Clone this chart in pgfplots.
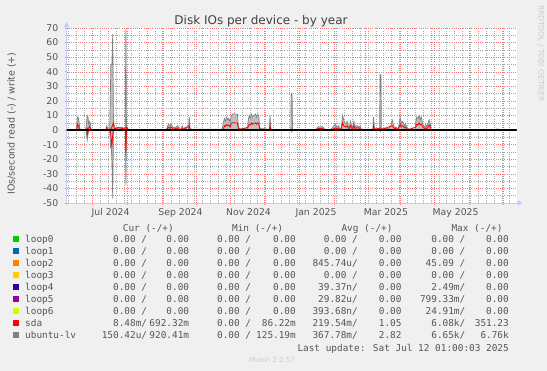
\documentclass[border=0pt]{standalone}
\usepackage{pgfplots}
\pgfplotsset{compat=1.18}
\usepackage{fontspec}
\setmainfont{DejaVu Sans}
\newfontfamily\monofont{DejaVu Sans Mono}
\usetikzlibrary{arrows.meta}
\definecolor{bgc}{HTML}{F0F0F0}
\definecolor{axc}{RGB}{200,200,255}
\definecolor{txt}{HTML}{555555}
\definecolor{cloop0}{HTML}{00CC00}
\definecolor{cloop1}{HTML}{0066B3}
\definecolor{cloop2}{HTML}{FF8000}
\definecolor{cloop3}{HTML}{FFCC00}
\definecolor{cloop4}{HTML}{330099}
\definecolor{cloop5}{HTML}{990099}
\definecolor{cloop6}{HTML}{CCFF00}
\definecolor{csda}{HTML}{FF0000}
\definecolor{clv}{HTML}{808080}
\newcommand{\lf}{\monofont\fontsize{9.4}{11}\selectfont\color{txt}}
\newcommand{\fld}[3]{\node[anchor=base east,inner sep=0pt] at (#1pt,{371pt-#2pt}) {\lf #3};}
\newcommand{\rowA}[7]{%
  \fill[#2] (13.2pt,{371pt-(#1pt-3.4pt)-2.8pt}) rectangle ++(5.6pt,5.6pt);
  \node[anchor=base west,inner sep=0pt] at (25pt,{371pt-#1pt}) {\lf #3};
  \fld{147.3}{#1}{#4}\fld{189.3}{#1}{#5}\fld{251.3}{#1}{#6}\fld{296}{#1}{#7}}
\newcommand{\rowB}[5]{%
  \fld{358}{#1}{#2}\fld{401.7}{#1}{#3}\fld{465.5}{#1}{#4}\fld{509}{#1}{#5}}
\begin{document}
\begin{tikzpicture}
\fill[bgc] (0,0) rectangle (547pt,371pt);
\useasboundingbox (0,0) rectangle (547pt,371pt);
\begin{axis}[
  at={(66.5pt,168pt)}, anchor=south west,
  width=450pt, height=175pt, scale only axis,
  xmin=-22.9, xmax=377.1, ymin=-50, ymax=70,
  axis background/.style={fill=white},
  axis lines=left,
  axis line style={draw=axc, line width=0.8pt, -{Triangle[length=5pt,width=5pt]}, shorten >=-6pt},
  xtick={0,31,62,92,123,153,184,215,243,274,304,335,365},
  xticklabels={},
  extra x ticks={16.3,78.4,138.9,198.9,261,323},
  extra x tick labels={Jul 2024,Sep 2024,Nov 2024,Jan 2025,Mar 2025,May 2025},
  extra x tick style={grid=none, major tick length=0pt},
  minor xtick={-21,-14,...,371},
  ytick={-50,-40,...,70},
  yticklabels={-50,-40,-30,-20,-10,0,10,20,30,40,50,60,70},
  minor ytick={-45,-35,...,65},
  grid=both,
  major grid style={draw=red!55, dash pattern=on 0.7pt off 1.5pt, line width=0.45pt},
  minor grid style={draw=black!35, dash pattern=on 0.7pt off 1.5pt, line width=0.45pt},
  tick align=outside,
  major tick length=2pt, minor tick length=1.5pt,
  tick style={draw=red!50, line width=0.5pt},
  minor tick style={draw=black!25},
  ticklabel style={font=\fontsize{9.3}{11}\selectfont, text=txt, inner sep=0pt},
  xticklabel style={anchor=base, yshift=-13pt},
  yticklabel style={anchor=east, xshift=-6pt},
]
% loops (all zero)
\addplot[cloop0, line width=0.6pt] coordinates {(-22.9,0) (377.1,0)};
\addplot[cloop1, line width=0.6pt] coordinates {(-22.9,0) (377.1,0)};
\addplot[cloop2, line width=0.6pt] coordinates {(-22.9,0) (377.1,0)};
\addplot[cloop3, line width=0.6pt] coordinates {(-22.9,0) (377.1,0)};
\addplot[cloop4, line width=0.6pt] coordinates {(-22.9,0) (377.1,0)};
\addplot[cloop5, line width=0.6pt] coordinates {(-22.9,0) (377.1,0)};
\addplot[cloop6, line width=0.6pt] coordinates {(-22.9,0) (377.1,0)};
% ubuntu-lv write
\addplot[draw=clv, fill=black!25, line width=0.7pt] coordinates {
(-22.9,0.3) (-14,0.3) (-13.5,6) (-13,9) (-12.4,8.5) (-11.8,6) (-11,1) (-10.5,0.3) (-6,0.3) (-5.5,2) (-4.5,10) (-3.8,9) (-3.2,4) (-2.5,6) (-1.8,5) (-1.2,1) (-0.5,0.3) (12,0.3) (12.5,2) (13,3) (13.5,1) (15.5,0.3) (16,20) (16.5,45) (17.5,45) (18.2,66) (18.8,10) (19.3,4) (20,1) (21,1.5) (22,2) (24,2) (26,1.5) (27,2) (28,1) (29.2,0.5) (29.9,69) (30.4,1) (31,2) (32,0.5) (66,0.3) (67,3) (68,4) (69,2.5) (70,4) (71,3) (72,1.5) (74,2) (76,3) (77,1) (79,0.5) (80,3) (81,1) (83,2) (84,0.5) (85.5,0.5) (86.2,9) (87,1) (89,0.5) (115.5,0.5) (116.5,5) (117.5,8) (118.5,6) (119.5,9) (120.5,7) (121.5,8) (122.5,5) (123.5,10) (125,11) (127,11) (129,10.8) (130,2) (131,1) (138,1) (138.5,6) (139.5,10) (140.5,8) (141.5,11) (142.5,9) (143.5,10) (145,11) (146,9) (147,11) (148,10) (148.7,2) (150,1) (153,1) (156,0.5) (157.5,0.5) (158,10) (158.7,1) (160,0.3) (176.5,0.3) (176.8,25) (177.6,25) (178,0.3) (199,0.3) (199.5,1) (200,2) (201,2.3) (203,2) (204,2.5) (206,1.5) (207,0.3) (212,0.3) (212.5,1) (214,2) (216,4) (217,2) (219,3) (220,0.5) (221.5,2) (222.5,10) (223.5,7) (224.5,5) (225.5,4) (226.5,6) (227.5,3) (228.5,2) (229.5,6) (230.5,3) (231.5,1) (232.5,6) (233.5,2) (234.5,3) (236,3) (237,1) (238,3) (239,0.5) (249,0.5) (249.5,1) (250,9) (250.8,2) (252,0.5) (255.5,0.5) (255.8,38) (256.6,38) (257,0.5) (258,1) (260,1.5) (262,1) (264,1.5) (265.5,3) (266.6,7) (267.5,4) (268.5,2) (270,2) (272,1) (273,5) (273.7,9) (274.5,4) (275.5,6) (276.5,5) (277.5,3) (278.5,4) (279.5,2) (281,1) (282,0.5) (287,0.5) (287.5,5) (288.5,9) (289.5,8) (290.5,10) (291.5,7) (292.5,9) (293.5,5) (294.5,3) (295.5,2) (296.5,4) (297.5,2) (298.5,5) (299.5,7) (300.5,4) (301,0.3) (359,0.3) (359.5,0.8) (361,0.8) (361.5,0.3) (377.1,0.3)
} \closedcycle;
% ubuntu-lv read
\addplot[draw=clv, fill=black!25, line width=0.7pt] coordinates {
(-22.9,0) (-5.5,0) (-4.5,-7) (-3.8,-3) (-3,0) (15.5,0) (16.3,-12) (17,-13) (17.4,-19) (18.2,-47) (18.8,-2) (19.5,0) (29.4,0) (29.9,-38) (30.4,0) (176.8,0) (177.3,-1.2) (177.8,0) (255.8,0) (256.2,-1) (256.6,0) (377.1,0)
} \closedcycle;
% sda write
\addplot[csda, line width=0.8pt] coordinates {
(-22.9,0.2) (-13.8,0.2) (-13,4) (-12.4,3) (-11.5,1) (-10.8,0.2) (-5,0.2) (-4.5,1.5) (-3.5,1) (-2.5,2.5) (-1.5,1) (-0.5,0.2) (12.5,0.2) (13,1.5) (13.5,0.2) (16.5,0.5) (18,3) (18.7,5) (19.5,1) (21,1) (22,1.5) (25,1.5) (27,1) (28,0.5) (29.9,2) (30.5,1) (31,1.5) (32,0.2) (66.5,0.2) (67,1.5) (68,2) (69,1) (70,2) (71,1.5) (72,0.5) (76,1.5) (77,0.3) (80,1) (81,0.3) (86.2,3) (87,0.3) (116.5,0.3) (117.5,3) (118.5,2.5) (119.5,4) (120.5,3) (121.5,3.5) (122.5,2) (123.5,4.5) (125,5) (127,5) (129,4.8) (130,1) (131,0.3) (138.5,2) (139.5,4) (140.5,3.5) (141.5,5) (142.5,4) (143.5,4.5) (145,5) (146,4) (147,5) (148,4.5) (148.7,0.5) (157.5,0.3) (158,3) (158.7,0.3) (200,0.3) (200.5,1) (203,1) (204,1.2) (206,0.5) (207,0.2) (214,0.5) (216,1.5) (217,1) (219,1.5) (220,0.3) (221.5,1) (222.5,5) (223.5,3) (224.5,2.5) (225.5,2) (226.5,3) (227.5,1.5) (228.5,1) (229.5,3) (230.5,1.5) (231.5,0.5) (232.5,3) (233.5,1) (234.5,1.5) (236,1.5) (238,1.2) (239,0.2) (249.5,0.3) (250,3) (250.8,0.5) (256.2,1.5) (257,0.3) (266.6,3) (267.5,2) (268.5,1) (270,1) (272,0.3) (273.7,4) (274.5,2) (275.5,3) (276.5,2.5) (277.5,1.5) (278.5,2) (279.5,1) (281,0.3) (287.5,2) (288.5,4) (289.5,3.5) (290.5,5) (291.5,3.5) (292.5,4) (293.5,2.5) (294.5,1.5) (295.5,1) (296.5,1.5) (297.5,1) (298.5,2) (299.5,3.5) (300.5,2) (301,0.2) (377.1,0.2)
};
% sda read
\addplot[csda, line width=0.8pt] coordinates {
(-22.9,0) (-5,0) (-4.5,-3) (-3.8,-1) (-3,0) (16,0) (16.8,-6) (17.4,-12) (18,-5) (18.6,0) (29.4,0) (29.9,-15) (30.4,0) (377.1,0)
};
% zero rule
\addplot[black, line width=1.2pt] coordinates {(-22.9,0) (377.1,0)};
\end{axis}
% title and labels
\node[anchor=base, inner sep=0pt, text=black!75] at (261pt,346.5pt) {\fontsize{12}{14}\selectfont Disk IOs per device - by year};
\node[rotate=90, inner sep=0pt, text=txt] at (11.7pt,{371pt-123.4pt}) {\fontsize{9.5}{11}\selectfont IOs/second read (-) / write (+)};
\node[rotate=-90, inner sep=0pt, text=black!20] at (541pt,{371pt-53.5pt}) {\fontsize{7.5}{9}\selectfont RRDTOOL / TOBI OETIKER};
% legend header
\node[anchor=base east, inner sep=0pt] at (174pt,{371pt-231.7pt}) {\lf Cur (-/+)};
\node[anchor=base east, inner sep=0pt] at (283.3pt,{371pt-231.7pt}) {\lf Min (-/+)};
\node[anchor=base east, inner sep=0pt] at (392.7pt,{371pt-231.7pt}) {\lf Avg (-/+)};
\node[anchor=base east, inner sep=0pt] at (502.7pt,{371pt-231.7pt}) {\lf Max (-/+)};
% legend rows
\rowA{242.7}{cloop0}{loop0}{0.00~/}{0.00~}{0.00~/}{0.00~}
\rowB{242.7}{0.00~/}{0.00~}{0.00~/}{0.00~}
\rowA{254.7}{cloop1}{loop1}{0.00~/}{0.00~}{0.00~/}{0.00~}
\rowB{254.7}{0.00~/}{0.00~}{0.00~/}{0.00~}
\rowA{266.7}{cloop2}{loop2}{0.00~/}{0.00~}{0.00~/}{0.00~}
\rowB{266.7}{845.74u/}{0.00~}{45.09~/}{0.00~}
\rowA{278.7}{cloop3}{loop3}{0.00~/}{0.00~}{0.00~/}{0.00~}
\rowB{278.7}{0.00~/}{0.00~}{0.00~/}{0.00~}
\rowA{290.7}{cloop4}{loop4}{0.00~/}{0.00~}{0.00~/}{0.00~}
\rowB{290.7}{39.37n/}{0.00~}{2.49m/}{0.00~}
\rowA{302.7}{cloop5}{loop5}{0.00~/}{0.00~}{0.00~/}{0.00~}
\rowB{302.7}{29.82u/}{0.00~}{799.33m/}{0.00~}
\rowA{314.7}{cloop6}{loop6}{0.00~/}{0.00~}{0.00~/}{0.00~}
\rowB{314.7}{393.68n/}{0.00~}{24.91m/}{0.00~}
\rowA{326.7}{csda}{sda}{8.48m/}{692.32m}{0.00~/}{86.22m}
\rowB{326.7}{219.54m/}{1.05~}{6.08k/}{351.23~}
\rowA{338.7}{clv}{ubuntu-lv}{150.42u/}{920.41m}{0.00~/}{125.19m}
\rowB{338.7}{367.78m/}{2.82~}{6.65k/}{6.76k}
\node[anchor=base east, inner sep=0pt] at (509pt,{371pt-351.1pt}) {\lf Last update: Sat Jul 12 01:00:03 2025};
\node[inner sep=0pt, text=black!20] at (272pt,{371pt-360.3pt}) {\fontsize{7}{8}\selectfont Munin 2.0.57};
\end{tikzpicture}
\end{document}
